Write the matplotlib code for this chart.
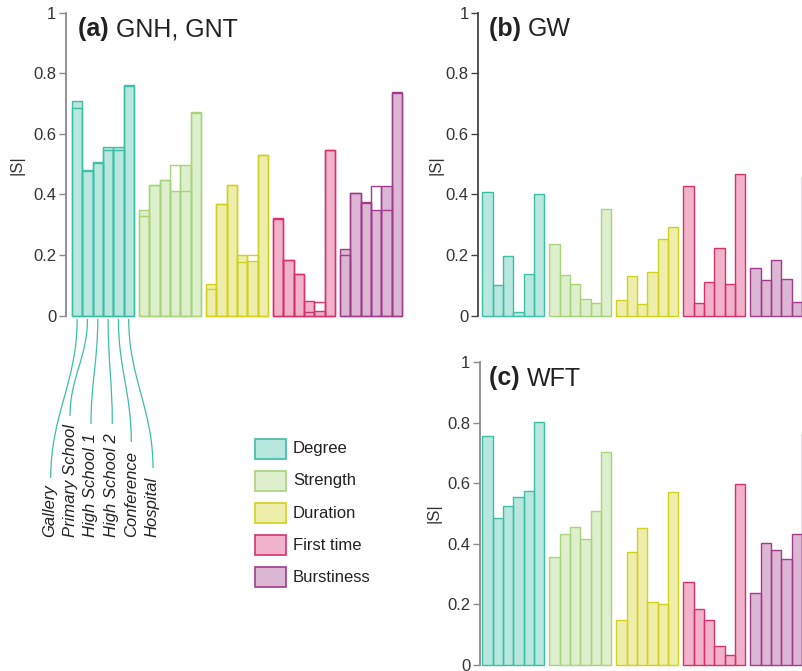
import matplotlib
matplotlib.use("Agg")
import matplotlib.pyplot as plt
import numpy as np
from matplotlib.patches import Rectangle, PathPatch
from matplotlib.path import Path
from matplotlib.colors import to_rgba

plt.rcParams['font.family'] = ['Liberation Sans', 'DejaVu Sans']

groups = ["Degree", "Strength", "Duration", "First time", "Burstiness"]
datasets = ["Gallery", "Primary School", "High School 1", "High School 2", "Conference", "Hospital"]
edge_colors = ["#3dbea5", "#a8d47a", "#d2d21e", "#d7326e", "#a03c8c"]

# panel (a): GNH drawn filled, GNT drawn as outline
gnh = [
    [0.708, 0.481, 0.506, 0.556, 0.558, 0.760],
    [0.348, 0.433, 0.449, 0.410, 0.499, 0.672],
    [0.103, 0.369, 0.432, 0.199, 0.179, 0.531],
    [0.322, 0.185, 0.139, 0.050, 0.014, 0.548],
    [0.219, 0.406, 0.376, 0.348, 0.427, 0.737],
]
gnt = [
    [0.684, 0.478, 0.504, 0.547, 0.548, 0.758],
    [0.330, 0.431, 0.447, 0.499, 0.410, 0.670],
    [0.087, 0.367, 0.430, 0.178, 0.199, 0.529],
    [0.320, 0.183, 0.137, 0.011, 0.046, 0.546],
    [0.199, 0.404, 0.371, 0.429, 0.348, 0.735],
]
gw = [
    [0.409, 0.101, 0.198, 0.013, 0.139, 0.400],
    [0.238, 0.135, 0.103, 0.054, 0.041, 0.353],
    [0.052, 0.130, 0.037, 0.144, 0.253, 0.292],
    [0.429, 0.042, 0.110, 0.224, 0.105, 0.469],
    [0.156, 0.117, 0.183, 0.122, 0.044, 0.457],
]
wft = [
    [0.757, 0.484, 0.525, 0.553, 0.575, 0.803],
    [0.358, 0.431, 0.455, 0.415, 0.507, 0.703],
    [0.147, 0.372, 0.451, 0.209, 0.202, 0.570],
    [0.274, 0.184, 0.147, 0.064, 0.033, 0.597],
    [0.239, 0.404, 0.380, 0.349, 0.432, 0.761],
]

W, H = 803, 671
U = 10.31  # pixels per bar
GAP = 6.5


def fx(x):
    return x / W


def fy(y):
    return 1 - y / H


def make_axes(fig, spine_x, offset, y0, spine_color):
    xmin, xmax = -offset, 32.2
    width = (xmax - xmin) * U
    ax = fig.add_axes([fx(spine_x), fy(y0), width / W, 303 / H])
    ax.set_xlim(xmin, xmax)
    ax.set_ylim(0, 1)
    for s in ['top', 'right', 'bottom']:
        ax.spines[s].set_visible(False)
    ax.spines['left'].set_color(spine_color)
    ax.spines['left'].set_linewidth(1.3)
    ax.set_xticks([])
    ax.set_yticks([0, 0.2, 0.4, 0.6, 0.8, 1])
    ax.set_yticklabels(["0", "0.2", "0.4", "0.6", "0.8", "1"])
    ax.tick_params(axis='y', length=5, width=1, color=spine_color, pad=2,
                   labelsize=12, labelcolor='#333333')
    return ax


def draw_bars(ax, values, filled=True):
    for g, vals in enumerate(values):
        xs = g * GAP + np.arange(6) + 0.5
        ec = edge_colors[g]
        if filled:
            fc = to_rgba(ec, 0.37)
        else:
            fc = 'none'
        ax.bar(xs, vals, width=1.0, facecolor=fc, edgecolor=ec,
               linewidth=1.0, clip_on=False)


fig = plt.figure(figsize=(W / 100, H / 100), dpi=100)

ax_a = make_axes(fig, 66, 0.58, 315.7, '#8a8a8a')
draw_bars(ax_a, gnt, filled=False)
draw_bars(ax_a, gnh)

ax_b = make_axes(fig, 478.3, 0.39, 315.7, '#444444')
draw_bars(ax_b, gw)

ax_c = make_axes(fig, 480, 0.22, 665, '#8a8a8a')
draw_bars(ax_c, wft)

# titles
for x, y, tag, name in [(78, 36, "(a)", "GNH, GNT"), (489, 36, "(b)", "GW"), (489, 385.5, "(c)", "WFT")]:
    t = fig.text(fx(x), fy(y), tag + " ", fontsize=18, fontweight='bold', color='#222222', va='baseline')
    fig.canvas.draw()
    bb = t.get_window_extent()
    fig.text(bb.x1 / W, fy(y), name, fontsize=18, color='#222222', va='baseline')

# y labels
for x, y in [(17, 165), (436, 165), (434, 513)]:
    fig.text(fx(x), fy(y), "|S|", fontsize=12, rotation=90, ha='center', va='center', color='#333333')

# dataset labels with connector curves
label_x = [50, 70.7, 90.7, 111.7, 131.7, 152]
line_end = [(50.7, 478), (70, 416), (91, 424), (112.3, 424), (131.3, 442), (153, 468)]
for i, name in enumerate(datasets):
    x0 = 72 + (i + 0.5) * U
    y0 = 319
    x1, y1 = line_end[i]
    k = 0.4 * (y1 - y0)
    pts = [(fx(x0), fy(y0)), (fx(x0), fy(y0 + k)), (fx(x1), fy(y1 - k)), (fx(x1), fy(y1))]
    path = Path(pts, [Path.MOVETO, Path.CURVE4, Path.CURVE4, Path.CURVE4])
    fig.add_artist(PathPatch(path, facecolor='none', edgecolor=edge_colors[0],
                             linewidth=0.9, transform=fig.transFigure))
    fig.text(fx(label_x[i]), fy(537), name, fontsize=12, style='italic', rotation=90,
             ha='center', va='bottom', color='#222222')

# legend
for j, g in enumerate(groups):
    yc = 449 + 32 * j
    ec = edge_colors[j]
    fig.add_artist(Rectangle((fx(255), fy(yc + 10.3)), 31.5 / W, 20.6 / H,
                             facecolor=to_rgba(ec, 0.37), edgecolor=ec, linewidth=1.2,
                             transform=fig.transFigure))
    fig.text(fx(293), fy(yc), g, fontsize=12, va='center', color='#222222')

fig.savefig("out.png", dpi=100)
